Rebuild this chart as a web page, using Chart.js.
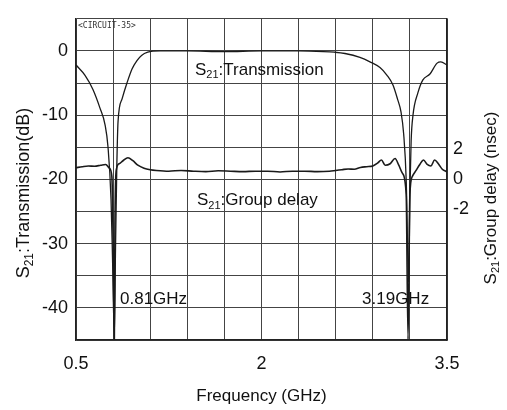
<!DOCTYPE html>
<html>
<head>
<meta charset="utf-8">
<script src="https://cdn.jsdelivr.net/npm/chart.js@4"></script>
<style>
html,body{margin:0;padding:0;background:#fff;}
#wrap{width:507px;height:410px;position:relative;}
</style>
</head>
<body>
<div id="wrap"><canvas id="c" width="507" height="410"></canvas></div>
<script>
// ---- data ----
const transFreq = [0.50,0.573,0.637,0.694,0.735,0.759,0.783,0.795,0.81,0.82,0.83,0.84,0.872,0.912,0.953,0.993,1.03,1.08,1.18,1.4,1.7,2.0,2.3,2.5,2.59,2.675,2.796,2.877,2.958,3.015,3.063,3.10,3.128,3.15,3.17,3.19,3.20,3.21,3.225,3.265,3.305,3.362,3.42,3.45,3.50];
const transDb   = [-2.2,-3.8,-6.0,-8.9,-11.5,-15,-23,-32,-44.5,-30,-18,-11,-7.5,-5,-2.8,-1.5,-0.7,-0.2,0,0,-0.1,0,0,-0.1,-0.2,-0.4,-1.0,-1.7,-2.6,-3.8,-5.3,-7.5,-9.5,-13,-20,-36,-22,-14,-10,-6.5,-4.5,-3.6,-1.9,-1.7,-2.2];

const delayFreq = [0.50,0.55,0.60,0.65,0.70,0.74,0.77,0.79,0.80,0.81,0.815,0.825,0.85,0.88,0.92,0.96,1.00,1.05,1.10,1.15,1.25,1.35,1.45,1.55,1.65,1.75,1.85,1.95,2.05,2.15,2.25,2.35,2.45,2.55,2.60,2.65,2.70,2.75,2.80,2.85,2.90,2.94,2.97,3.00,3.04,3.08,3.11,3.14,3.17,3.185,3.20,3.22,3.25,3.28,3.31,3.34,3.37,3.40,3.43,3.46,3.50];
const delayNs   = [0.78,0.85,0.9,0.88,0.95,1.0,0.75,0.2,-4,-10.7,-3,0.6,1.05,1.25,1.45,1.25,0.95,0.75,0.65,0.6,0.55,0.6,0.55,0.52,0.58,0.55,0.52,0.55,0.55,0.5,0.55,0.55,0.52,0.55,0.6,0.65,0.7,0.68,0.8,0.85,0.9,1.1,1.3,0.95,1.05,1.4,0.95,0.4,-1,-10.7,-1,0.2,0.6,1.0,1.3,1.0,0.9,1.3,1.05,0.7,0.5];

const xGridTicks   = [0.5,0.8,1.1,1.4,1.7,2.0,2.3,2.6,2.9,3.2,3.5];
const xTickLabels  = [0.5,2,3.5];
const dbTickLabels = [0,-10,-20,-30,-40];
const nsTickLabels = [2,0,-2];

const FONT = "'Liberation Sans', Arial, Helvetica, sans-serif";

// draws "S" + subscript "21" + rest, starting at (px, py), returns nothing
function drawSubText(ctx, rest, px, py, size) {
  ctx.font = size + 'px ' + FONT;
  ctx.fillText('S', px, py); px += ctx.measureText('S').width;
  ctx.font = Math.round(size * 0.65) + 'px ' + FONT;
  ctx.fillText('21', px, py + size * 0.3); px += ctx.measureText('21').width;
  ctx.font = size + 'px ' + FONT;
  ctx.fillText(rest, px, py);
}
function subTextWidth(ctx, rest, size) {
  ctx.font = size + 'px ' + FONT;
  let w = ctx.measureText('S').width + ctx.measureText(rest).width;
  ctx.font = Math.round(size * 0.65) + 'px ' + FONT;
  return w + ctx.measureText('21').width;
}

const textPlugin = {
  id: 'notes',
  afterDraw(chart) {
    const ctx = chart.ctx;
    const xs = chart.scales.x, ys = chart.scales.y;
    const items = [
      {sub:true, post:':Transmission', x:1.462, y:-3.0},
      {sub:true, post:':Group delay', x:1.478, y:-23.3},
      {text:'0.81GHz', x:0.856, y:-38.6},
      {text:'3.19GHz', x:2.813, y:-38.6}
    ];
    ctx.save();
    ctx.fillStyle = '#111';
    ctx.textBaseline = 'middle';
    ctx.textAlign = 'left';
    for (const it of items) {
      const px = xs.getPixelForValue(it.x), py = ys.getPixelForValue(it.y);
      if (it.sub) drawSubText(ctx, it.post, px, py, 17);
      else { ctx.font = '17px ' + FONT; ctx.fillText(it.text, px, py); }
    }
    // axis titles (rotated, reading bottom to top)
    const titles = [
      {rest: ':Transmission(dB)', cx: 24, cy: 193, size: 18},
      {rest: ':Group delay (nsec)', cx: 491, cy: 198, size: 17}
    ];
    for (const t of titles) {
      const w = subTextWidth(ctx, t.rest, t.size);
      ctx.save();
      ctx.translate(t.cx, t.cy);
      ctx.rotate(-Math.PI / 2);
      drawSubText(ctx, t.rest, -w / 2, 0, t.size);
      ctx.restore();
    }
    ctx.font = '8px ' + "'DejaVu Sans Mono', monospace";
    ctx.fillStyle = '#333';
    ctx.fillText('<CIRCUIT-35>', chart.chartArea.left + 2, chart.chartArea.top + 7);
    ctx.restore();
  }
};

new Chart(document.getElementById('c'), {
  type: 'line',
  data: {
    datasets: [
      {
        label: 'S21 Transmission',
        data: transFreq.map((f, i) => ({x: f, y: transDb[i]})),
        yAxisID: 'y',
        borderColor: '#1a1a1a',
        borderWidth: 1.3,
        pointRadius: 0,
        cubicInterpolationMode: 'monotone'
      },
      {
        label: 'S21 Group delay',
        data: delayFreq.map((f, i) => ({x: f, y: delayNs[i]})),
        yAxisID: 'y2',
        borderColor: '#1a1a1a',
        borderWidth: 1.6,
        pointRadius: 0,
        cubicInterpolationMode: 'monotone'
      }
    ]
  },
  options: {
    responsive: false,
    animation: false,
    devicePixelRatio: 1,
    layout: {padding: {top: 17, left: 0, right: 0, bottom: 0}},
    plugins: {legend: {display: false}, tooltip: {enabled: false}},
    scales: {
      x: {
        type: 'linear',
        min: 0.5, max: 3.5,
        afterBuildTicks: s => { s.ticks = xGridTicks.map(v => ({value: v})); },
        afterFit: s => { s.height = 70; },
        ticks: {
          autoSkip: false, maxRotation: 0, padding: 13,
          color: '#111', font: {family: FONT, size: 18},
          callback: v => { const m = xTickLabels.find(t => Math.abs(t - v) < 1e-6); return m === undefined ? '' : String(m); }
        },
        grid: {color: '#444', lineWidth: 1, drawTicks: false},
        border: {color: '#222', width: 1.5},
        title: {display: true, text: 'Frequency (GHz)', color: '#111', font: {family: FONT, size: 17}, padding: {top: 0, bottom: 3}}
      },
      y: {
        type: 'linear', position: 'left',
        min: -45, max: 5,
        ticks: {
          stepSize: 5, padding: 8, color: '#111', font: {family: FONT, size: 18},
          callback: v => dbTickLabels.includes(v) ? String(v) : ''
        },
        afterFit: s => { s.width = 76; },
        grid: {color: '#444', lineWidth: 1, drawTicks: false},
        border: {color: '#222', width: 1.5},
        title: {display: false, text: 'S21:Transmission(dB)'}
      },
      y2: {
        type: 'linear', position: 'right',
        min: -10.75, max: 10.75,
        afterBuildTicks: s => { s.ticks = nsTickLabels.map(v => ({value: v})); },
        afterFit: s => { s.width = 60; },
        ticks: {padding: 6, color: '#111', font: {family: FONT, size: 18}, callback: v => String(v)},
        grid: {drawOnChartArea: false, drawTicks: false},
        border: {color: '#222', width: 1.5},
        title: {display: false, text: 'S21:Group delay (nsec)'}
      }
    }
  },
  plugins: [textPlugin]
});
</script>
</body>
</html>
